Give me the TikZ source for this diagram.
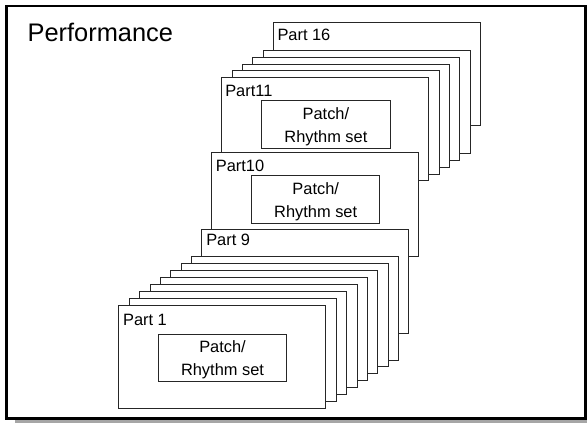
\documentclass[tikz,border=0pt]{standalone}
\usepackage{fontspec}
\setmainfont{Liberation Sans}
\usetikzlibrary{calc}
\tikzset{
  partbox/.style={draw=black!85, line width=0.9pt, fill=white, anchor=north west,
    minimum width=207pt, minimum height=103.3pt, inner sep=0pt, outer sep=0pt},
  patchbox/.style={draw=black!85, line width=0.9pt, fill=white, anchor=north west,
    minimum width=128.4pt, minimum height=47.7pt, inner sep=0pt, outer sep=0pt},
  lbl/.style={font=\fontsize{16.4}{18}\selectfont, inner sep=0pt, anchor=base west},
  ptxt/.style={font=\fontsize{16.4}{18}\selectfont, inner sep=0pt, anchor=base},
}
\begin{document}
\begin{tikzpicture}[x=1pt,y=-1pt]
\useasboundingbox (0,0) rectangle (587,423);
% shadow and frame
\fill[black!35] (15,419.5) rectangle (587,423);
\draw[line width=2.4pt, fill=white] (6.5,6) rectangle (585.5,418.3);
\node[font=\fontsize{25.4}{28}\selectfont, inner sep=0pt, anchor=base west] (title) at (27.4,41.7) {Performance};
% parts, back to front
\node[partbox] (p16) at (273.3,22.3) {};
\node[partbox] (p15) at (263.3,50) {};
\node[partbox] (p14) at (252.7,57) {};
\node[partbox] (p13) at (242.3,64) {};
\node[partbox] (p12) at (232.3,70.7) {};
\node[partbox] (p11) at (221.7,77.3) {};
\node[partbox] (p10) at (211.7,152.7) {};
\node[partbox] (p9) at (201.8,229.8) {};
\node[partbox] (p8) at (191.7,256.7) {};
\node[partbox] (p7) at (181.2,263.5) {};
\node[partbox] (p6) at (170.8,270.6) {};
\node[partbox] (p5) at (160.4,277.5) {};
\node[partbox] (p4) at (150.0,284.4) {};
\node[partbox] (p3) at (139.5,291.3) {};
\node[partbox] (p2) at (129.0,298.2) {};
\node[partbox] (p1) at (118.3,305) {};
% part labels
\node[lbl] (l16) at ($(p16.north west)+(4,17.7)$) {Part 16};
\node[lbl] (l11) at ($(p11.north west)+(3.4,19.2)$) {Part11};
\node[lbl] (l10) at ($(p10.north west)+(4,18.3)$) {Part10};
\node[lbl] (l9) at ($(p9.north west)+(4.3,16)$) {Part 9};
\node[lbl] (l1) at ($(p1.north west)+(4.6,20.3)$) {Part 1};
% patch boxes
\node[patchbox] (s11) at ($(p11.north west)+(40,23.4)$) {};
\node[patchbox] (s10) at ($(p10.north west)+(39.8,23.1)$) {};
\node[patchbox] (s1) at ($(p1.north west)+(40,29)$) {};
\foreach \s in {s11,s10,s1}{
  \node[ptxt] (\s a) at ($(\s.north)+(0,18.8)$) {Patch/};
  \node[ptxt] (\s b) at ($(\s.north)+(0,41.6)$) {Rhythm set};
}
\end{tikzpicture}
\end{document}
